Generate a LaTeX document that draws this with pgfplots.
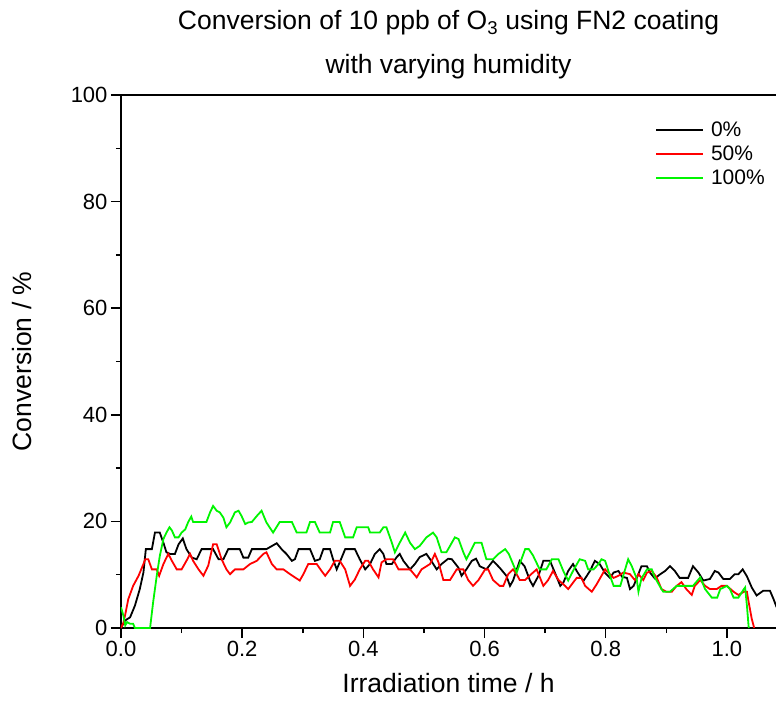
\documentclass[border=0pt]{standalone}
\usepackage{pgfplots}
\pgfplotsset{compat=1.18}
\usepackage{fontspec}
\setmainfont{Liberation Sans}
\definecolor{lgreen}{RGB}{0,245,0}
\begin{document}
\begin{tikzpicture}
\useasboundingbox (-121pt,-89pt) rectangle (655pt,628pt);
\begin{axis}[
  at={(0,0)}, anchor=south west,
  scale only axis, width=655pt, height=533pt,
  xmin=0, xmax=1.081, ymin=0, ymax=100,
  axis x line=box, axis y line=left,
  axis line style={-, line width=1.6pt},
  xtick pos=bottom, ytick pos=left,
  tick align=outside,
  major tick length=10pt, minor tick length=5pt,
  every tick/.style={black, line width=1.5pt},
  xtick={0,0.2,0.4,0.6,0.8,1.0},
  ytick={0,20,40,60,80,100},
  minor x tick num=1, minor y tick num=1,
  /pgf/number format/assume math mode=true,
  xticklabel style={/pgf/number format/.cd, fixed, fixed zerofill, precision=1},
  yticklabel style={/pgf/number format/.cd, fixed, precision=0},
  tick label style={font=\fontsize{22}{25}\selectfont},
  xlabel={Irradiation time / h},
  ylabel={Conversion / \%},
  label style={font=\fontsize{26.5}{30}\selectfont},
  xlabel style={at={(axis description cs:0.5,0)}, anchor=base, yshift=-64pt},
  ylabel style={at={(axis description cs:0,0.5)}, anchor=base, yshift=89pt},
  title={Conversion of 10 ppb of O\textsubscript{3} using FN2 coating\\with varying humidity},
  title style={align=center, font=\fontsize{26.5}{44}\selectfont, at={(0.5,1)}, anchor=south, yshift=6pt},
  legend style={draw=none, fill=none, inner sep=0pt, at={(0.8153,0.953)}, anchor=north west,
    font=\fontsize{21}{24}\selectfont, row sep=4pt,
    nodes={inner sep=0pt, text height=16pt, text depth=4pt},
    /tikz/every odd column/.append style={column sep=7pt}},
  legend cell align=left,
  legend image code/.code={\draw[#1] (0pt,0pt) -- (47pt,0pt);},
  every axis plot/.append style={line width=1.8pt},
]
\addplot[black] coordinates {
(0,0) (0.0066,1.4) (0.015,2.0) (0.023,4.2) (0.031,7.3) (0.037,10.4) (0.041,14.8) (0.051,14.8) (0.056,17.9) (0.064,17.9) (0.070,16.0) (0.075,14.2) (0.081,13.9) (0.089,13.9) (0.095,15.7) (0.102,16.8) (0.108,14.8) (0.117,13.2) (0.125,12.9) (0.133,14.8) (0.152,14.8) (0.161,12.9) (0.169,12.9) (0.177,14.8) (0.196,14.8) (0.202,13.2) (0.210,13.2) (0.216,14.8) (0.240,14.8) (0.257,15.9) (0.265,14.8) (0.273,13.9) (0.282,12.6) (0.287,12.9) (0.293,14.8) (0.312,14.8) (0.320,12.6) (0.328,12.9) (0.334,14.8) (0.345,14.8) (0.350,12.9) (0.356,11.0) (0.362,12.6) (0.370,14.8) (0.386,14.8) (0.394,12.9) (0.403,11.0) (0.411,12.0) (0.419,13.9) (0.427,14.8) (0.433,13.9) (0.438,12.0) (0.447,12.0) (0.455,13.3) (0.460,13.9) (0.466,12.6) (0.477,11.0) (0.485,12.0) (0.493,13.3) (0.504,13.9) (0.512,12.6) (0.521,11.0) (0.529,12.0) (0.540,13.0) (0.546,12.9) (0.557,11.3) (0.562,9.8) (0.570,11.0) (0.579,12.6) (0.586,13.0) (0.592,11.6) (0.603,11.0) (0.614,12.6) (0.625,11.3) (0.636,9.8) (0.642,7.9) (0.647,8.9) (0.658,12.6) (0.666,11.6) (0.675,8.9) (0.680,7.9) (0.689,9.8) (0.697,12.6) (0.708,12.6) (0.716,10.4) (0.725,7.9) (0.730,8.5) (0.738,10.7) (0.746,12.0) (0.752,10.7) (0.763,8.8) (0.774,10.7) (0.782,12.6) (0.790,12.0) (0.799,10.3) (0.807,9.4) (0.813,10.4) (0.821,10.7) (0.827,9.6) (0.835,9.4) (0.840,7.3) (0.846,7.9) (0.851,9.3) (0.859,11.6) (0.868,11.6) (0.873,10.4) (0.881,9.3) (0.890,10.1) (0.898,10.7) (0.906,11.6) (0.914,10.7) (0.922,9.4) (0.936,9.4) (0.944,11.6) (0.953,10.4) (0.961,8.9) (0.972,9.2) (0.980,10.7) (0.986,10.4) (0.994,9.2) (1.005,9.2) (1.013,10.1) (1.019,10.1) (1.026,11.0) (1.033,9.7) (1.041,7.6) (1.049,6.1) (1.060,7.0) (1.071,7.0) (1.077,5.4) (1.082,3.9)
};
\addlegendentry{0\%}
\addplot[red] coordinates {
(0,0) (0.004,1.0) (0.0066,2.3) (0.012,5.4) (0.020,7.9) (0.029,9.8) (0.037,12.0) (0.040,12.9) (0.045,12.9) (0.051,11.0) (0.059,11.0) (0.063,9.8) (0.070,12.0) (0.078,13.9) (0.084,12.6) (0.092,11.0) (0.100,11.0) (0.108,12.6) (0.114,13.9) (0.119,12.6) (0.128,11.0) (0.136,9.8) (0.144,11.7) (0.152,15.7) (0.158,15.7) (0.166,12.9) (0.174,11.0) (0.180,10.1) (0.188,11.0) (0.202,11.0) (0.213,12.0) (0.224,12.6) (0.235,13.9) (0.240,14.2) (0.249,12.0) (0.257,11.0) (0.268,11.0) (0.279,10.1) (0.295,8.9) (0.301,10.1) (0.309,12.0) (0.323,12.0) (0.331,10.7) (0.337,9.8) (0.345,11.0) (0.353,12.6) (0.361,12.6) (0.370,11.0) (0.378,7.9) (0.386,9.1) (0.394,11.0) (0.403,12.6) (0.408,12.6) (0.416,11.0) (0.425,9.5) (0.430,12.3) (0.438,12.9) (0.449,12.9) (0.458,11.0) (0.477,11.0) (0.488,9.5) (0.496,11.0) (0.510,12.0) (0.518,13.9) (0.524,12.3) (0.532,9.0) (0.543,9.0) (0.554,11.0) (0.565,11.0) (0.573,9.0) (0.581,7.9) (0.590,9.0) (0.601,11.0) (0.606,11.0) (0.614,9.0) (0.625,7.9) (0.631,7.9) (0.639,10.1) (0.647,11.0) (0.653,10.1) (0.658,9.0) (0.667,9.0) (0.677,10.1) (0.686,11.0) (0.697,7.9) (0.705,9.0) (0.713,10.7) (0.722,9.0) (0.733,7.9) (0.738,7.3) (0.744,8.2) (0.752,9.4) (0.760,9.4) (0.766,7.9) (0.777,6.8) (0.785,8.2) (0.799,11.0) (0.804,10.4) (0.813,9.4) (0.821,9.8) (0.829,10.4) (0.840,10.1) (0.848,9.0) (0.854,10.1) (0.862,9.0) (0.868,10.4) (0.876,10.7) (0.884,9.5) (0.892,7.3) (0.900,6.8) (0.909,6.8) (0.917,7.9) (0.925,8.6) (0.933,7.3) (0.942,6.2) (0.947,7.9) (0.956,9.0) (0.964,7.9) (0.972,7.3) (0.983,7.3) (0.991,7.9) (1.000,7.9) (1.011,6.8) (1.019,6.2) (1.028,6.8) (1.033,6.8) (1.035,5.4) (1.041,1.7) (1.045,0)
};
\addlegendentry{50\%}
\addplot[lgreen] coordinates {
(0,3.9) (0.004,2.3) (0.007,0.5) (0.010,1.1) (0.015,0.8) (0.020,0.8) (0.023,0) (0.048,0) (0.053,4.8) (0.059,9.8) (0.064,13.5) (0.070,16.7) (0.075,17.9) (0.080,18.9) (0.084,18.3) (0.089,17.0) (0.095,17.0) (0.100,17.9) (0.106,18.5) (0.111,19.9) (0.116,20.9) (0.119,19.9) (0.141,19.9) (0.147,21.7) (0.152,22.9) (0.158,22.0) (0.163,21.7) (0.169,20.7) (0.174,18.9) (0.180,19.8) (0.188,21.7) (0.194,22.0) (0.199,21.0) (0.205,19.5) (0.210,19.8) (0.216,19.9) (0.224,21.0) (0.232,22.0) (0.240,19.8) (0.251,17.9) (0.262,19.9) (0.282,19.9) (0.290,17.9) (0.306,17.9) (0.312,19.9) (0.320,19.9) (0.328,17.9) (0.345,17.9) (0.350,19.9) (0.361,19.9) (0.370,17.0) (0.383,17.0) (0.389,18.9) (0.408,18.9) (0.411,17.9) (0.427,17.9) (0.433,18.9) (0.438,18.9) (0.447,16.0) (0.452,14.2) (0.460,16.0) (0.469,17.9) (0.477,16.0) (0.485,14.8) (0.493,15.4) (0.504,17.0) (0.515,17.9) (0.521,17.0) (0.529,14.2) (0.537,14.2) (0.546,16.0) (0.551,17.0) (0.557,16.7) (0.565,14.2) (0.570,12.9) (0.576,14.2) (0.584,16.0) (0.595,16.0) (0.603,12.9) (0.614,12.9) (0.623,13.9) (0.634,14.8) (0.640,13.9) (0.647,12.0) (0.653,10.4) (0.658,12.0) (0.667,14.8) (0.673,14.8) (0.680,13.6) (0.691,11.0) (0.702,11.0) (0.711,12.9) (0.722,12.9) (0.730,10.7) (0.738,8.9) (0.746,10.7) (0.757,12.9) (0.766,12.6) (0.771,11.0) (0.780,11.0) (0.788,12.0) (0.793,12.9) (0.799,12.6) (0.807,9.8) (0.813,7.9) (0.824,7.9) (0.832,11.0) (0.837,12.9) (0.843,11.6) (0.851,9.3) (0.854,6.8) (0.859,9.3) (0.868,11.0) (0.876,11.0) (0.881,9.5) (0.892,7.3) (0.895,6.8) (0.906,6.8) (0.917,7.9) (0.944,7.9) (0.956,9.5) (0.964,7.3) (0.975,5.7) (0.984,5.7) (0.989,7.3) (1.000,7.9) (1.005,7.3) (1.011,5.7) (1.019,5.7) (1.028,7.3) (1.030,7.6) (1.033,4.2) (1.036,0)
};
\addlegendentry{100\%}
\end{axis}
\end{tikzpicture}
\end{document}
